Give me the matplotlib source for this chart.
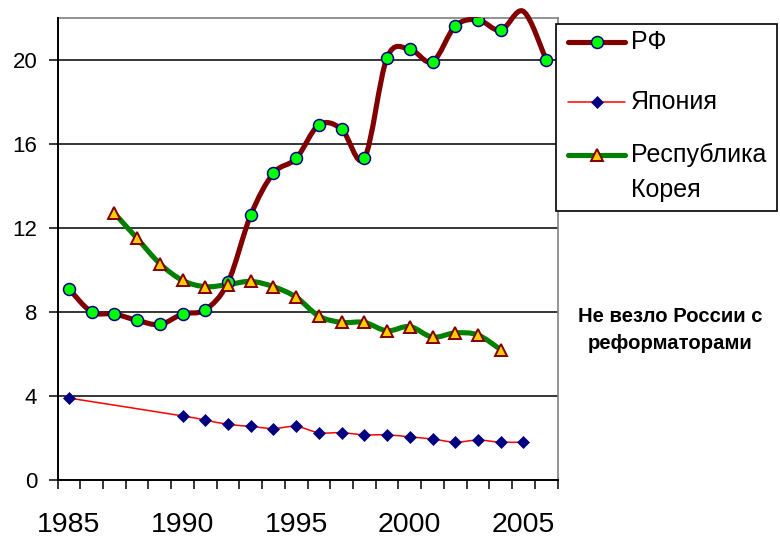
import numpy as np
import matplotlib
matplotlib.use("Agg")
import matplotlib.pyplot as plt
from matplotlib.path import Path
from matplotlib.patches import PathPatch, Rectangle
from matplotlib.lines import Line2D

plt.rcParams['font.family'] = ['Liberation Sans', 'DejaVu Sans']

# ---------------- data ----------------
years_rf = [1985, 1986, 1987, 1988, 1989, 1990, 1991, 1992, 1993, 1994, 1995,
            1996, 1997, 1998, 1999, 2000, 2001, 2002, 2003, 2004, 2005, 2006]
rf = [9.1, 8.0, 7.9, 7.6, 7.4, 7.9, 8.1, 9.4, 12.6, 14.6, 15.3,
      16.9, 16.7, 15.3, 20.1, 20.5, 19.9, 21.6, 21.9, 21.4, 22.3, 20.0]

years_jp = [1985, 1990, 1991, 1992, 1993, 1994, 1995, 1996, 1997, 1998,
            1999, 2000, 2001, 2002, 2003, 2004, 2005]
japan = [3.9, 3.05, 2.85, 2.65, 2.55, 2.45, 2.55, 2.25, 2.25, 2.15,
         2.15, 2.05, 1.95, 1.8, 1.9, 1.8, 1.8]

years_kr = [1987, 1988, 1989, 1990, 1991, 1992, 1993, 1994, 1995, 1996,
            1997, 1998, 1999, 2000, 2001, 2002, 2003, 2004]
korea = [12.7, 11.5, 10.3, 9.5, 9.2, 9.3, 9.45, 9.2, 8.7, 7.8,
         7.5, 7.5, 7.1, 7.3, 6.8, 7.0, 6.9, 6.2]

series_names = ['РФ', 'Япония', 'Республика\nКорея']
xtick_years = [1985, 1990, 1995, 2000, 2005]
yticks = [0, 4, 8, 12, 16, 20]
note = 'Не везло России с\nреформаторами'

# ---------------- helpers ----------------
def smooth_path(xs, ys):
    """Excel-like smoothed line: cubic Bezier through the data points."""
    P = np.column_stack([xs, ys]).astype(float)
    n = len(P)
    verts = [P[0]]
    codes = [Path.MOVETO]
    for i in range(n - 1):
        p0 = P[i - 1] if i > 0 else P[i]
        p1 = P[i]
        p2 = P[i + 1]
        p3 = P[i + 2] if i + 2 < n else P[i + 1]
        c1 = p1 + (p2 - p0) / 6.0
        c2 = p2 - (p3 - p1) / 6.0
        verts += [c1, c2, p2]
        codes += [Path.CURVE4] * 3
    return Path(verts, codes)

W, H = 780, 538
fig = plt.figure(figsize=(W / 100, H / 100), dpi=100)
ax = fig.add_axes([57.5 / W, 1 - 480 / H, 500 / W, (480 - 17.7) / H])

ymax = 22
ax.set_xlim(1984.5, 2006.5)
ax.set_ylim(0, ymax)

# gridlines
for v in yticks[1:]:
    ax.axhline(v, color='black', lw=1.1, zorder=1)

RF_C, JP_C, KR_C = '#800000', '#FF0000', '#008000'

# lines
kr_patch = PathPatch(smooth_path(years_kr, korea), fill=False, ec=KR_C, lw=3.7,
                     capstyle='round', joinstyle='round', zorder=3)
ax.add_patch(kr_patch)
rf_patch = PathPatch(smooth_path(years_rf, rf), fill=False, ec=RF_C, lw=3.7,
                     capstyle='round', joinstyle='round', zorder=3.2, clip_on=False)
ax.add_patch(rf_patch)
jp_patch = PathPatch(smooth_path(years_jp, japan), fill=False, ec=JP_C, lw=1.1,
                     capstyle='round', joinstyle='round', zorder=3.1)
ax.add_patch(jp_patch)

# markers (points beyond the axis maximum are not shown, as in Excel)
rf_arr = np.ma.masked_greater(np.array(rf), ymax)
ax.plot(years_rf, rf_arr, ls='none', marker='o', ms=8.6, mfc='#00FF00',
        mec='#000080', mew=1.1, zorder=4)
ax.plot(years_jp, japan, ls='none', marker='D', ms=6.2, mfc='#000080',
        mec='#000080', mew=0.5, zorder=4)
ax.plot(years_kr, korea, ls='none', marker='^', ms=9.2, mfc='#FFCC00',
        mec='#800000', mew=1.4, zorder=5)

# axes styling
for side in ['top', 'right']:
    ax.spines[side].set_color('#808080')
    ax.spines[side].set_linewidth(1.2)
for side in ['left', 'bottom']:
    ax.spines[side].set_color('black')
    ax.spines[side].set_linewidth(1.4)
    ax.spines[side].set_zorder(6)

ax.set_yticks(yticks)
ax.set_yticklabels([str(v) for v in yticks])
ax.tick_params(axis='y', which='major', length=6.5, width=1.1, pad=8,
               labelsize=16, direction='out')

bounds = np.arange(1984.5, 2007.0, 1.0)
ax.set_xticks(bounds)
ax.set_xticklabels([''] * len(bounds))
ax.set_xticks(xtick_years, minor=True)
ax.set_xticklabels([str(y) for y in xtick_years], minor=True)
ax.tick_params(axis='x', which='major', length=6.5, width=1.1, direction='out')
ax.tick_params(axis='x', which='minor', length=0, pad=23, labelsize=20.5)

# ---------------- legend (drawn as in the original box) ----------------
tf = fig.transFigure
fig.add_artist(Rectangle((556 / W, 1 - 211 / H), (777 - 556) / W, (211 - 24) / H,
                         transform=tf, facecolor='white', edgecolor='black',
                         lw=1.2, zorder=10))
hx0, hx1 = 568 / W, 625 / W
hxm = (hx0 + hx1) / 2
legend_specs = [
    (42, RF_C, 3.7, dict(marker='o', ms=8.6, mfc='#00FF00', mec='#000080', mew=1.1)),
    (102, JP_C, 1.1, dict(marker='D', ms=6.2, mfc='#000080', mec='#000080', mew=0.5)),
    (155, KR_C, 3.7, dict(marker='^', ms=9.2, mfc='#FFCC00', mec='#800000', mew=1.4)),
]
for (ypx, col, lw, mk), name in zip(legend_specs, series_names):
    yf = 1 - ypx / H
    fig.add_artist(Line2D([hx0, hx1], [yf, yf], transform=tf, color=col, lw=lw,
                          solid_capstyle='round', zorder=11))
    fig.add_artist(Line2D([hxm], [yf], transform=tf, ls='none', zorder=12, **mk))
    lines = name.split('\n')
    for k, line in enumerate(lines):
        fig.text(631 / W, 1 - (ypx + 35 * k) / H, line, ha='left', va='center',
                 fontsize=18, zorder=12)

fig.text(670 / W, 1 - 330 / H, note, ha='center', va='center', fontsize=14.6,
         fontweight='bold', linespacing=1.5)

fig.savefig('out.png', dpi=100)
